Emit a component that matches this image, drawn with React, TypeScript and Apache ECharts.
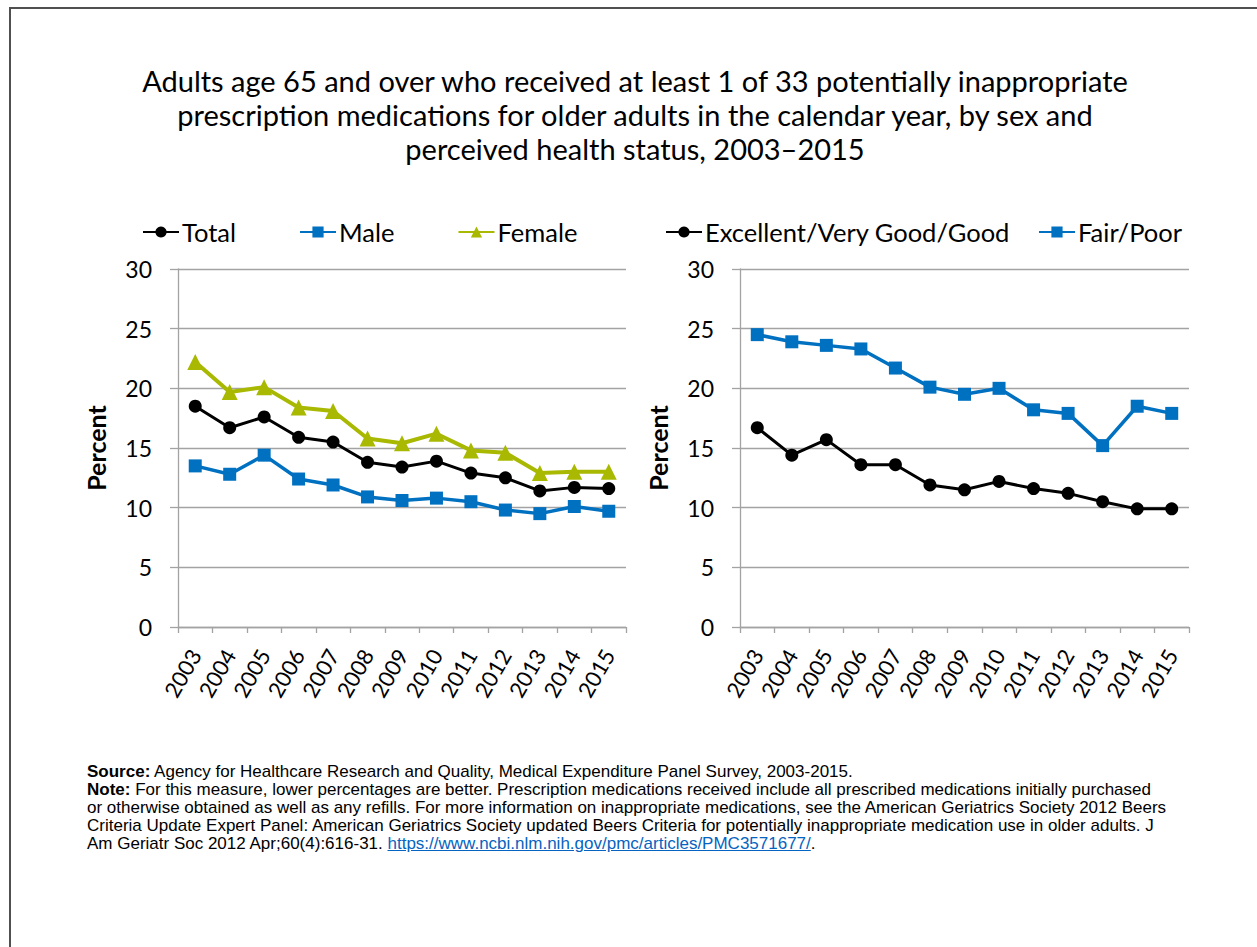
import React, { useEffect, useRef } from "react";
import * as echarts from "echarts";

const years = ["2003", "2004", "2005", "2006", "2007", "2008", "2009", "2010", "2011", "2012", "2013", "2014", "2015"];
const total = [18.5, 16.7, 17.6, 15.9, 15.5, 13.8, 13.4, 13.9, 12.9, 12.5, 11.4, 11.7, 11.6];
const male = [13.5, 12.8, 14.4, 12.4, 11.9, 10.9, 10.6, 10.8, 10.5, 9.8, 9.5, 10.1, 9.7];
const female = [22.2, 19.7, 20.1, 18.4, 18.1, 15.8, 15.4, 16.2, 14.8, 14.6, 12.9, 13.0, 13.0];
const goodHealth = [16.7, 14.4, 15.7, 13.6, 13.6, 11.9, 11.5, 12.2, 11.6, 11.2, 10.5, 9.9, 9.9];
const poorHealth = [24.5, 23.9, 23.6, 23.3, 21.7, 20.1, 19.5, 20.0, 18.2, 17.9, 15.2, 18.5, 17.9];

const titleLines = [
  "Adults age 65 and over who received at least 1 of 33 potentially inappropriate",
  "prescription medications for older adults in the calendar year, by sex and",
  "perceived health status, 2003\u20132015",
];

const BLACK = "#000000";
const BLUE = "#0070C0";
const GREEN = "#A9B800";
const GRID = "#a3a3a3";
const FONT = "Lato, 'Noto Sans', sans-serif";

function yAxis(gridIndex: number) {
  return {
    type: "value" as const,
    gridIndex,
    min: 0,
    max: 30,
    interval: 5,
    name: "Percent",
    nameLocation: "middle" as const,
    nameGap: 70,
    nameTextStyle: { fontFamily: FONT, fontWeight: "bold" as const, fontSize: 25, color: "#000" },
    axisLine: { show: true, lineStyle: { color: GRID, width: 1.3 } },
    axisTick: { show: true, length: 8, lineStyle: { color: GRID, width: 1.3 } },
    splitLine: { show: true, lineStyle: { color: GRID, width: 1.3 } },
    axisLabel: { fontFamily: FONT, fontSize: 23, color: "#000", margin: 26 },
  };
}

function xAxis(gridIndex: number) {
  return {
    type: "category" as const,
    gridIndex,
    data: years,
    boundaryGap: true,
    axisLine: { show: true, lineStyle: { color: GRID, width: 1.3 } },
    axisTick: { show: true, length: 6, interval: 0, lineStyle: { color: GRID, width: 1.3 } },
    axisLabel: { interval: 0, rotate: 60, fontFamily: FONT, fontSize: 22, color: "#000", margin: 24 },
  };
}

function lineSeries(name: string, data: number[], color: string, symbol: string, size: number, idx: number, width: number) {
  return {
    type: "line" as const,
    name,
    data,
    xAxisIndex: idx,
    yAxisIndex: idx,
    symbol,
    symbolSize: size,
    showAllSymbol: true,
    itemStyle: { color },
    lineStyle: { color, width },
    emphasis: { disabled: true },
  };
}

export default function App() {
  const ref = useRef<HTMLDivElement>(null);
  useEffect(() => {
    if (!ref.current) return;
    const chart = echarts.init(ref.current, undefined, { renderer: "svg" });
    chart.setOption({
      animation: false,
      backgroundColor: "transparent",
      graphic: [
        {
          type: "text",
          x: 635,
          y: 63,
          style: {
            text: titleLines.join("\n"),
            fontFamily: FONT,
            fontSize: 29,
            lineHeight: 34,
            fill: "#000",
            textAlign: "center",
          },
        },
      ],
      legend: [
        {
          data: ["Total", "Male", "Female"],
          left: 142,
          top: 219,
          itemWidth: 36,
          itemHeight: 14,
          itemGap: 63,
          padding: 0,
          textStyle: { fontFamily: FONT, fontSize: 25.5, color: "#000", padding: [0, 0, 0, -2] },
        },
        {
          data: ["Excellent/Very Good/Good", "Fair/Poor"],
          left: 665,
          top: 219,
          itemWidth: 36,
          itemHeight: 14,
          itemGap: 28,
          padding: 0,
          textStyle: { fontFamily: FONT, fontSize: 25.5, color: "#000", padding: [0, 0, 0, -2] },
        },
      ],
      grid: [
        { left: 178, top: 269, width: 448, height: 358 },
        { left: 740, top: 269, width: 449, height: 358 },
      ],
      xAxis: [xAxis(0), xAxis(1)],
      yAxis: [yAxis(0), yAxis(1)],
      series: [
        lineSeries("Total", total, BLACK, "circle", 13, 0, 3),
        lineSeries("Male", male, BLUE, "rect", 13, 0, 3.5),
        lineSeries("Female", female, GREEN, "triangle", 16, 0, 4),
        lineSeries("Excellent/Very Good/Good", goodHealth, BLACK, "circle", 13, 1, 3),
        lineSeries("Fair/Poor", poorHealth, BLUE, "rect", 13, 1, 3.5),
      ],
    });
    return () => chart.dispose();
  }, []);

  return (
    <div style={{ position: "absolute", left: 0, top: 0, width: 1257, height: 947, overflow: "hidden", background: "#fff" }}>
      <div
        style={{
          position: "absolute",
          left: 9,
          top: 7,
          width: 1400,
          height: 1100,
          border: "2px solid #505050",
          boxSizing: "border-box",
        }}
      />
      <div ref={ref} style={{ position: "absolute", left: 0, top: 0, width: 1257, height: 947 }} />
      <div
        style={{
          position: "absolute",
          left: 87,
          top: 763,
          width: 1150,
          fontFamily: "'Liberation Sans', Arial, sans-serif",
          fontSize: 17,
          lineHeight: "18px",
          color: "#000",
          whiteSpace: "nowrap",
        }}
      >
        <b>Source:</b> Agency for Healthcare Research and Quality, Medical Expenditure Panel Survey, 2003-2015.
        <br />
        <b>Note:</b> For this measure, lower percentages are better. Prescription medications received include all prescribed medications initially purchased
        <br />
        or otherwise obtained as well as any refills. For more information on inappropriate medications, see the American Geriatrics Society 2012 Beers
        <br />
        Criteria Update Expert Panel: American Geriatrics Society updated Beers Criteria for potentially inappropriate medication use in older adults. J
        <br />
        Am Geriatr Soc 2012 Apr;60(4):616-31.{" "}
        <span style={{ color: "#0563C1", textDecoration: "underline" }}>https://www.ncbi.nlm.nih.gov/pmc/articles/PMC3571677/</span>.
      </div>
    </div>
  );
}
